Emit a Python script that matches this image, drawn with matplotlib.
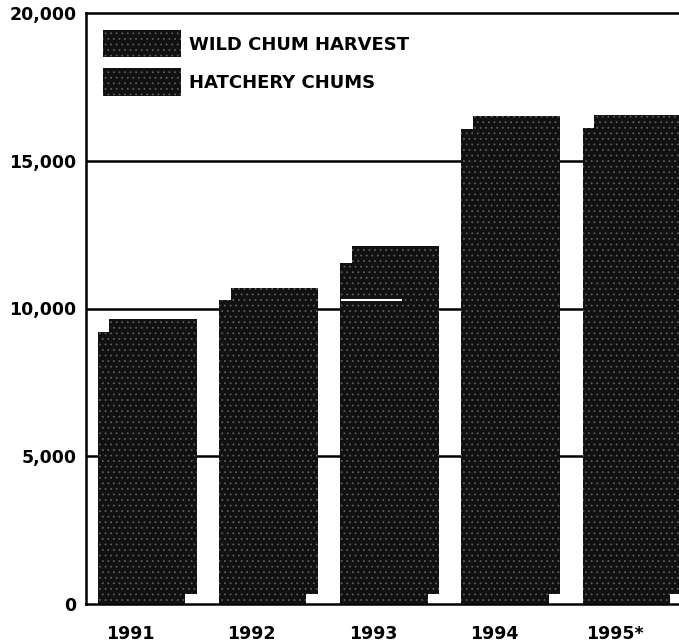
import matplotlib
matplotlib.use("Agg")
import matplotlib.pyplot as plt
import numpy as np

# ------------------------------
# data
# ------------------------------
years = ["1991", "1992", "1993", "1994", "1995*"]
wild_harvest = [9200, 10300, 11550, 16080, 16100]     # front bars
hatchery = [9290, 10340, 11790, 16180, 16220]         # rear bars
yticks = [0, 5000, 10000, 15000, 20000]
ytick_labels = ["0", "5,000", "10,000", "15,000", "20,000"]
line_1993 = 10300

# ------------------------------
# style
# ------------------------------
plt.rcParams["font.family"] = ["DejaVu Sans"]
plt.rcParams["hatch.linewidth"] = 0.6
bar_color = "#111111"
speckle = "#5c5c5c"
width = 0.72
dx = 0.095      # depth offset, x
dy = 340        # depth offset, y

fig = plt.figure(figsize=(6.79, 6.43), dpi=100)
ax = fig.add_axes([86 / 679, 39 / 643, 593 / 679, 591 / 643])

x = np.arange(len(years))

for y in yticks[1:-1]:
    ax.axhline(y, color="black", lw=1.8, zorder=1)

back = ax.bar(x + dx, hatchery, width, bottom=dy, color=bar_color,
              edgecolor=speckle, linewidth=0, hatch="...", zorder=2,
              label="HATCHERY CHUMS")
front = ax.bar(x, wild_harvest, width, color=bar_color,
               edgecolor=speckle, linewidth=0, hatch="...", zorder=3,
               label="WILD CHUM HARVEST")

ax.hlines(line_1993, 2 - width / 2 + 0.01, 2 + 0.15, color="white",
          lw=1.5, zorder=4)

ax.set_xlim(-0.458, 4.435)
ax.set_ylim(0, 20000)
ax.set_yticks(yticks)
ax.set_yticklabels(ytick_labels)
ax.set_xticks(x - 0.09)
ax.set_xticklabels(years)
ax.tick_params(axis="both", length=0, labelsize=12.5)
ax.tick_params(axis="x", pad=15)
ax.tick_params(axis="y", pad=7)
for lab in ax.get_xticklabels() + ax.get_yticklabels():
    lab.set_fontweight("bold")

for side in ["left", "top", "bottom"]:
    ax.spines[side].set_linewidth(1.8)
ax.spines["right"].set_visible(False)

leg = ax.legend(handles=[front, back], loc="upper left", frameon=False,
                prop={"size": 13, "weight": "bold"},
                handlelength=4.3, handleheight=1.95, handletextpad=0.45,
                labelspacing=0.6, borderpad=0, borderaxespad=0.95)

fig.savefig("out.png", dpi=100)
